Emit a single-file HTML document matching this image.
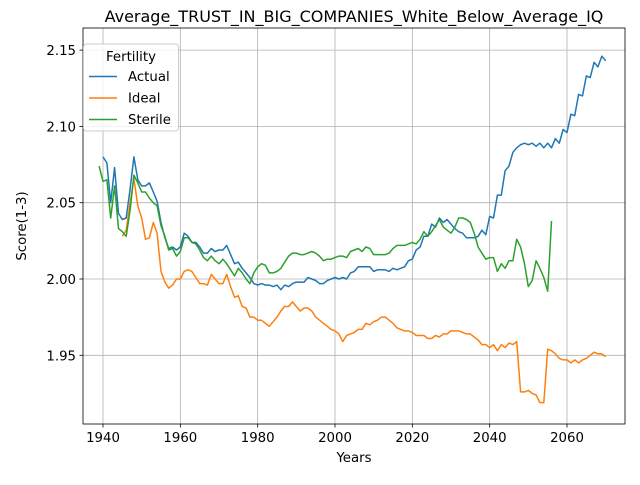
<!DOCTYPE html>
<html><head><meta charset="utf-8"><style>
body{margin:0;background:#fff;font-family:"Liberation Sans","DejaVu Sans",sans-serif}
</style></head><body>
<svg id="chart" width="640" height="480" xmlns="http://www.w3.org/2000/svg" font-family="DejaVu Sans, Liberation Sans, sans-serif"></svg>
<script>
const actualYears=[1940,2070];
const actualValues=[2.080,2.076,2.050,2.073,2.043,2.039,2.040,2.059,2.080,2.065,2.061,2.061,2.063,2.057,2.051,2.037,2.027,2.020,2.021,2.019,2.021,2.030,2.028,2.024,2.024,2.021,2.017,2.017,2.020,2.018,2.019,2.019,2.022,2.016,2.010,2.011,2.007,2.004,2.001,1.997,1.996,1.997,1.996,1.996,1.995,1.996,1.993,1.996,1.995,1.997,1.998,1.998,1.998,2.001,2.000,1.999,1.997,1.997,1.999,2.000,2.001,2.000,2.001,2.000,2.004,2.005,2.008,2.008,2.008,2.008,2.005,2.006,2.006,2.006,2.005,2.007,2.006,2.007,2.008,2.012,2.013,2.019,2.021,2.028,2.028,2.036,2.034,2.040,2.037,2.039,2.036,2.033,2.031,2.030,2.027,2.027,2.027,2.028,2.032,2.029,2.041,2.040,2.055,2.055,2.071,2.074,2.083,2.086,2.088,2.089,2.088,2.089,2.087,2.089,2.086,2.089,2.086,2.092,2.089,2.098,2.096,2.108,2.107,2.121,2.120,2.133,2.132,2.142,2.139,2.146,2.143];
const idealStart=1945;
const idealValues=[2.028,2.032,2.050,2.066,2.048,2.040,2.026,2.027,2.037,2.030,2.005,1.998,1.994,1.996,2.000,2.000,2.005,2.006,2.005,2.001,1.997,1.997,1.996,2.003,2.000,1.997,1.997,2.003,1.995,1.988,1.989,1.982,1.981,1.975,1.975,1.973,1.973,1.971,1.969,1.972,1.975,1.979,1.982,1.982,1.985,1.982,1.979,1.981,1.981,1.979,1.975,1.973,1.971,1.969,1.967,1.966,1.964,1.959,1.963,1.964,1.965,1.967,1.967,1.971,1.970,1.972,1.973,1.975,1.975,1.973,1.971,1.968,1.967,1.966,1.966,1.965,1.963,1.963,1.963,1.961,1.961,1.963,1.962,1.964,1.964,1.966,1.966,1.966,1.965,1.964,1.964,1.962,1.960,1.957,1.957,1.955,1.957,1.953,1.957,1.955,1.958,1.957,1.959,1.926,1.926,1.927,1.925,1.924,1.919,1.919,1.954,1.953,1.951,1.948,1.947,1.947,1.945,1.947,1.945,1.947,1.948,1.950,1.952,1.951,1.951,1.949];
const sterileStart=1939;
const sterileValues=[2.074,2.064,2.065,2.040,2.061,2.033,2.031,2.028,2.045,2.068,2.063,2.057,2.057,2.053,2.050,2.048,2.035,2.028,2.019,2.020,2.015,2.018,2.027,2.027,2.024,2.023,2.019,2.014,2.012,2.015,2.012,2.010,2.013,2.010,2.006,2.002,2.007,2.004,2.000,1.997,2.004,2.008,2.010,2.009,2.004,2.004,2.005,2.007,2.011,2.015,2.017,2.017,2.016,2.016,2.017,2.018,2.017,2.015,2.012,2.013,2.013,2.014,2.015,2.015,2.014,2.018,2.019,2.020,2.018,2.021,2.020,2.016,2.016,2.016,2.016,2.017,2.020,2.022,2.022,2.022,2.023,2.024,2.023,2.026,2.031,2.028,2.031,2.035,2.039,2.034,2.032,2.030,2.034,2.040,2.040,2.039,2.037,2.030,2.021,2.017,2.013,2.014,2.014,2.005,2.010,2.007,2.012,2.012,2.026,2.021,2.010,1.995,1.999,2.012,2.007,2.001,1.992,2.038];
const xTicks=[1940,1960,1980,2000,2020,2040,2060];
const yTicks=[1.95,2.00,2.05,2.10,2.15];
const yTickLabels=["1.95","2.00","2.05","2.10","2.15"];

const L=83,R=625,T=28,B=424;
const X=y=>103+(y-1940)*(464/120);
const Y=v=>279-(v-2.0)*1526;
const svg=document.getElementById('chart');
const NS='http://www.w3.org/2000/svg';
function mk(tag,attrs,parent){const e=document.createElementNS(NS,tag);for(const k in attrs)e.setAttribute(k,attrs[k]);(parent||svg).appendChild(e);return e;}

const grid=mk('g',{});


xTicks.forEach(t=>{
  const x=X(t);
  mk('line',{x1:x,x2:x,y1:T,y2:B,stroke:'#b0b0b0','stroke-width':0.8},grid);
  mk('line',{x1:x,x2:x,y1:B,y2:B+3.5,stroke:'#000','stroke-width':0.8});
  const tx=mk('text',{x:x,y:B+18,'font-size':13.3,'text-anchor':'middle'});
  
  
  tx.textContent=t;
});
yTicks.forEach((t,i)=>{
  const y=Y(t);
  mk('line',{x1:L,x2:R,y1:y,y2:y,stroke:'#b0b0b0','stroke-width':0.8},grid);
  mk('line',{x1:L-3.5,x2:L,y1:y,y2:y,stroke:'#000','stroke-width':0.8});
  const tx=mk('text',{x:L-7,y:y+5,'font-size':13.3,'text-anchor':'end'});
  
  
  tx.textContent=yTickLabels[i];
});

function series(start,vals,color,name){
  const pts=vals.map((v,i)=>X(start+i).toFixed(1)+','+Y(v).toFixed(1)).join(' ');
  const p=mk('polyline',{points:pts,fill:'none',stroke:color,'stroke-width':1.5,'stroke-linejoin':'round'});
  
  
}
series(actualYears[0],actualValues,'#1f77b4','actual-line');
series(idealStart,idealValues,'#ff7f0e','ideal-line');
series(sterileStart,sterileValues,'#2ca02c','sterile-line');

const frame=mk('rect',{x:L,y:T,width:R-L,height:B-T,fill:'none',stroke:'#000','stroke-width':0.8});



const title=mk('text',{x:(L+R)/2,y:22,'font-size':16,'text-anchor':'middle'});


title.textContent='Average_TRUST_IN_BIG_COMPANIES_White_Below_Average_IQ';
const xl=mk('text',{x:(L+R)/2,y:462,'font-size':13.3,'text-anchor':'middle'});


xl.textContent='Years';
const yl=mk('text',{x:26,y:(T+B)/2,'font-size':13.3,'text-anchor':'middle',transform:'rotate(-90 26 '+(T+B)/2+')'});


yl.textContent='Score(1-3)';

const lg=mk('g',{});


mk('rect',{x:83.5,y:44,width:95,height:87,rx:3,fill:'#fff','fill-opacity':0.8,stroke:'#ccc'},lg);
const lt=mk('text',{x:131,y:61,'font-size':13.3,'text-anchor':'middle'},lg);
lt.textContent='Fertility';
[['Actual','#1f77b4'],['Ideal','#ff7f0e'],['Sterile','#2ca02c']].forEach((e,i)=>{
  const y=81+i*21.5;
  const g=mk('g',{},lg);
  
  
  mk('line',{x1:89,x2:117,y1:y-4.5,y2:y-4.5,stroke:e[1],'stroke-width':1.5},g);
  const t=mk('text',{x:128,y:y,'font-size':13.3},g);
  t.textContent=e[0];
});
</script>
</body></html>
